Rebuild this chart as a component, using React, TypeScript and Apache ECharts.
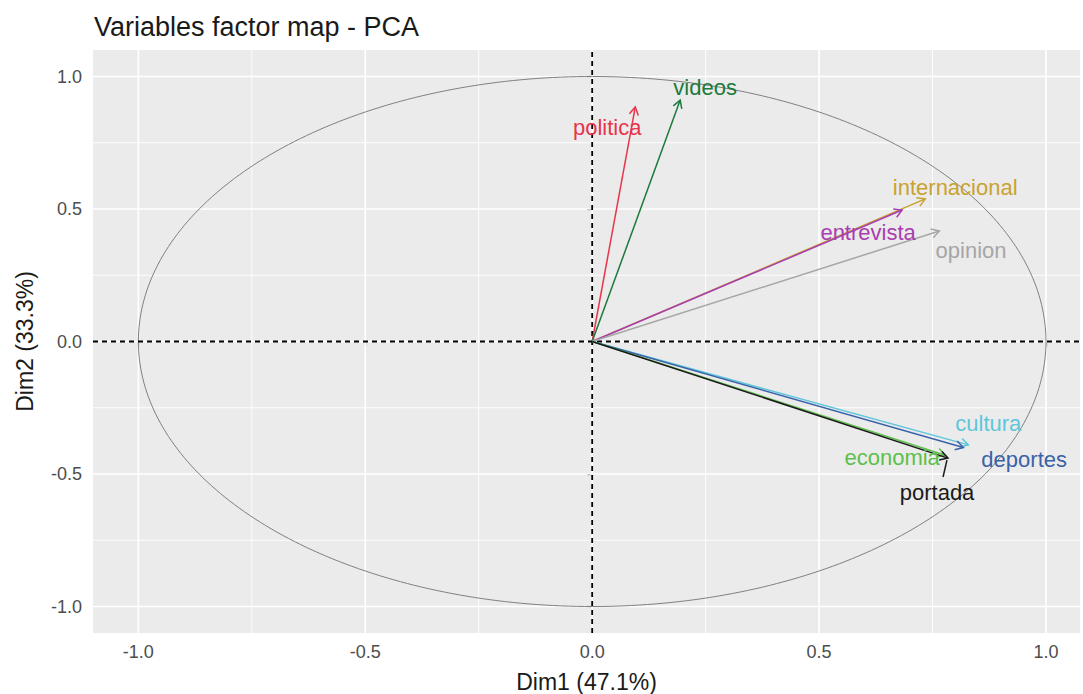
import React, { useEffect, useRef } from "react";
import * as echarts from "echarts";

// ---- data ----
const variables = [
  "politica",
  "videos",
  "internacional",
  "entrevista",
  "opinion",
  "cultura",
  "deportes",
  "economia",
  "portada",
];
const dim1 = [0.095, 0.194, 0.734, 0.683, 0.765, 0.829, 0.818, 0.778, 0.784];
const dim2 = [0.885, 0.911, 0.538, 0.496, 0.417, -0.39, -0.4, -0.429, -0.44];
// repelled label positions (data units)
const labelX = [0.033, 0.249, 0.8, 0.608, 0.835, 0.873, 0.952, 0.661, 0.76];
const labelY = [0.809, 0.96, 0.583, 0.413, 0.345, -0.308, -0.447, -0.436, -0.568];
const labelSegment = [false, false, false, false, false, false, false, false, true];
const varColors = [
  "#E8354B",
  "#1C7A3C",
  "#C9A230",
  "#A93EB0",
  "#A6A6A6",
  "#5EC6DA",
  "#3A62A8",
  "#5DBF4C",
  "#1A1A1A",
];
const majorBreaks = [-1, -0.5, 0, 0.5, 1];
const minorBreaks = [-0.75, -0.25, 0.25, 0.75];

const X_MIN = -1.1;
const X_MAX = 1.075;
const Y_MIN = -1.1;
const Y_MAX = 1.1;

const FONT = "'Liberation Sans', Arial, Helvetica, sans-serif";

export default function App() {
  const ref = useRef<HTMLDivElement>(null);

  useEffect(() => {
    if (!ref.current) return;
    const chart = echarts.init(ref.current, undefined, { renderer: "svg" });

    const gridData: number[][] = [];
    majorBreaks.forEach((v) => {
      gridData.push([v, 0, 0, 1]);
      gridData.push([0, v, 1, 1]);
    });
    minorBreaks.forEach((v) => {
      gridData.push([v, 0, 0, 0]);
      gridData.push([0, v, 1, 0]);
    });

    const arrowData = variables.map((_, i) => [dim1[i], dim2[i], i]);
    const labelData = variables.map((_, i) => [labelX[i], labelY[i], i]);

    const option: any = {
      animation: false,
      backgroundColor: "#ffffff",
      title: {
        text: "Variables factor map - PCA",
        left: 89,
        top: 8,
        textStyle: {
          fontFamily: FONT,
          fontSize: 27,
          fontWeight: "normal",
          color: "#1a1a1a",
        },
      },
      grid: {
        left: 93,
        right: 3,
        top: 50,
        bottom: 61,
        show: true,
        backgroundColor: "#EBEBEB",
        borderWidth: 0,
        containLabel: false,
        outerBoundsMode: "none",
      },
      xAxis: {
        type: "value",
        min: X_MIN,
        max: X_MAX,
        name: "Dim1 (47.1%)",
        nameLocation: "middle",
        nameGap: 37,
        nameTextStyle: { fontFamily: FONT, fontSize: 23, color: "#1a1a1a" },
        axisLine: { show: false },
        axisTick: {
          show: true,
          customValues: majorBreaks,
          length: 5,
          lineStyle: { color: "#333333", width: 1.2 },
        },
        axisLabel: {
          customValues: majorBreaks,
          formatter: (v: number) => v.toFixed(1),
          margin: 10,
          fontFamily: FONT,
          fontSize: 18,
          color: "#4D4D4D",
        },
        splitLine: { show: false },
      },
      yAxis: {
        type: "value",
        min: Y_MIN,
        max: Y_MAX,
        name: "Dim2 (33.3%)",
        nameLocation: "middle",
        nameRotate: 90,
        nameGap: 57,
        nameTextStyle: { fontFamily: FONT, fontSize: 23, color: "#1a1a1a" },
        axisLine: { show: false },
        axisTick: {
          show: true,
          customValues: majorBreaks,
          length: 5,
          lineStyle: { color: "#333333", width: 1.2 },
        },
        axisLabel: {
          customValues: majorBreaks,
          formatter: (v: number) => v.toFixed(1),
          margin: 11,
          fontFamily: FONT,
          fontSize: 18,
          color: "#4D4D4D",
        },
        splitLine: { show: false },
      },
      series: [
        {
          type: "custom",
          name: "grid",
          z: 1,
          silent: true,
          data: gridData,
          encode: { x: 0, y: 1 },
          renderItem: (params: any, api: any) => {
            const v0 = api.value(0);
            const v1 = api.value(1);
            const horiz = api.value(2) === 1;
            const major = api.value(3) === 1;
            let a, b;
            if (horiz) {
              a = api.coord([X_MIN, v1]);
              b = api.coord([X_MAX, v1]);
            } else {
              a = api.coord([v0, Y_MIN]);
              b = api.coord([v0, Y_MAX]);
            }
            return {
              type: "line",
              shape: { x1: a[0], y1: a[1], x2: b[0], y2: b[1] },
              style: { stroke: "#ffffff", lineWidth: major ? 1.7 : 0.9 },
            };
          },
        },
        {
          type: "custom",
          name: "circle",
          z: 2,
          silent: true,
          data: [[0, 0]],
          encode: { x: 0, y: 1 },
          renderItem: (params: any, api: any) => {
            const pts: number[][] = [];
            for (let k = 0; k <= 360; k++) {
              const t = (k * Math.PI) / 180;
              pts.push(api.coord([Math.cos(t), Math.sin(t)]));
            }
            return {
              type: "polyline",
              shape: { points: pts },
              style: { stroke: "#808080", lineWidth: 1, fill: "none" },
            };
          },
        },
        {
          type: "custom",
          name: "zero",
          z: 3,
          silent: true,
          data: [
            [0, 0, 0],
            [0, 0, 1],
          ],
          encode: { x: 0, y: 1 },
          renderItem: (params: any, api: any) => {
            const horiz = api.value(2) === 1;
            const a = horiz ? api.coord([X_MIN, 0]) : api.coord([0, Y_MIN]);
            const b = horiz ? api.coord([X_MAX, 0]) : api.coord([0, Y_MAX]);
            return {
              type: "line",
              shape: { x1: a[0], y1: a[1], x2: b[0], y2: b[1] },
              style: { stroke: "#000000", lineWidth: 1.8, lineDash: [5, 4] },
            };
          },
        },
        {
          type: "custom",
          name: "arrows",
          z: 4,
          silent: true,
          data: arrowData,
          encode: { x: 0, y: 1 },
          renderItem: (params: any, api: any) => {
            const i = api.value(2);
            const p0 = api.coord([0, 0]);
            const p1 = api.coord([api.value(0), api.value(1)]);
            const th = Math.atan2(p1[1] - p0[1], p1[0] - p0[0]);
            const L = 9;
            const w = Math.PI / 6;
            const w1 = [p1[0] - L * Math.cos(th - w), p1[1] - L * Math.sin(th - w)];
            const w2 = [p1[0] - L * Math.cos(th + w), p1[1] - L * Math.sin(th + w)];
            const color = varColors[i];
            return {
              type: "group",
              children: [
                {
                  type: "line",
                  shape: { x1: p0[0], y1: p0[1], x2: p1[0], y2: p1[1] },
                  style: { stroke: color, lineWidth: 1.5 },
                },
                {
                  type: "polyline",
                  shape: { points: [w1, p1, w2] },
                  style: { stroke: color, lineWidth: 1.5, fill: "none" },
                },
              ],
            };
          },
        },
        {
          type: "custom",
          name: "labels",
          z: 5,
          silent: true,
          data: labelData,
          encode: { x: 0, y: 1 },
          renderItem: (params: any, api: any) => {
            const i = api.value(2);
            const p = api.coord([api.value(0), api.value(1)]);
            const color = varColors[i];
            const children: any[] = [];
            if (labelSegment[i]) {
              const tip = api.coord([dim1[i], dim2[i]]);
              children.push({
                type: "line",
                shape: { x1: p[0] + 6, y1: p[1] - 15, x2: tip[0] - 1, y2: tip[1] + 2 },
                style: { stroke: color, lineWidth: 1.5 },
              });
            }
            children.push({
              type: "text",
              x: p[0],
              y: p[1],
              style: {
                text: variables[i],
                fill: color,
                fontFamily: FONT,
                fontSize: 22,
                align: "center",
                verticalAlign: "middle",
              },
            });
            return { type: "group", children };
          },
        },
      ],
    };

    chart.setOption(option);
    return () => {
      chart.dispose();
    };
  }, []);

  return (
    <div
      ref={ref}
      style={{ position: "absolute", left: 0, top: 0, width: 1083, height: 694 }}
    />
  );
}
